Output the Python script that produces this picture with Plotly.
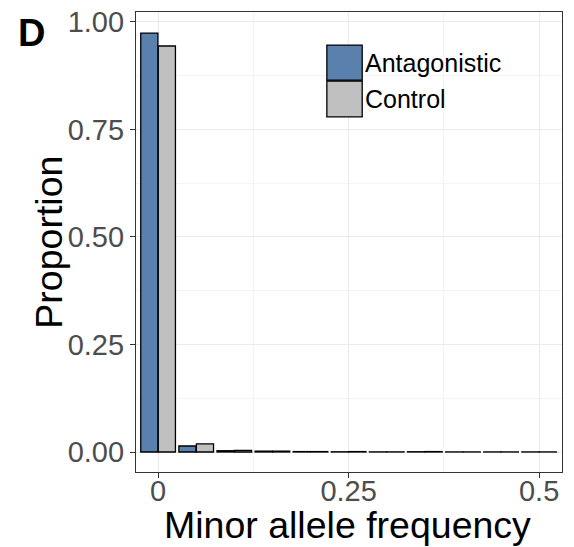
import plotly.graph_objects as go

bin_centers = [0, 0.05, 0.10, 0.15, 0.20, 0.25, 0.30, 0.35, 0.40, 0.45, 0.50]
antagonistic = [0.974, 0.014, 0.003, 0.002, 0.001, 0.0005, 0.0003, 0.0006, 0.0002, 0.0002, 0.0002]
control = [0.944, 0.019, 0.004, 0.002, 0.001, 0.001, 0.0003, 0.001, 0.0002, 0.0002, 0.0002]
series_names = ["Antagonistic", "Control"]
series_colors = ["#5A80AE", "#C0C0C0"]
x_ticks = [0, 0.25, 0.5]
x_ticklabels = ["0", "0.25", "0.5"]
y_ticks = [0, 0.25, 0.5, 0.75, 1.0]
y_ticklabels = ["0.00", "0.25", "0.50", "0.75", "1.00"]
x_title = "Minor allele frequency"
y_title = "Proportion"

FONT = "Liberation Sans, Arial, Helvetica, sans-serif"

fig = go.Figure()
for name, vals, col in zip(series_names, [antagonistic, control], series_colors):
    fig.add_trace(go.Bar(x=bin_centers, y=vals, name=name, width=0.0225,
                         marker=dict(color=col, line=dict(color="black", width=1.3)),
                         showlegend=False))

fig.update_layout(
    width=574, height=547,
    margin=dict(l=136, r=12, t=12, b=75),
    barmode="group", bargap=0.08, bargroupgap=0,
    plot_bgcolor="white", paper_bgcolor="white",
    font=dict(family=FONT, color="black"),
    xaxis=dict(range=[-0.029, 0.53], tickvals=x_ticks, ticktext=x_ticklabels, automargin=False,
               tickfont=dict(size=29, color="#4d4d4d"), ticks="outside", ticklen=5,
               ticklabelstandoff=-12,
               tickcolor="#333333", showgrid=True, gridcolor="#ebebeb", gridwidth=1,
               minor=dict(tickvals=[0.125, 0.375], showgrid=True, gridcolor="#f4f4f4", ticks=""),
               showline=True, mirror=True, linecolor="#333333", linewidth=1.2, zeroline=False),
    yaxis=dict(range=[-0.0465, 1.023], tickvals=y_ticks, ticktext=y_ticklabels, automargin=False,
               tickfont=dict(size=29, color="#4d4d4d"), ticks="outside", ticklen=5,
               tickcolor="#333333", showgrid=True, gridcolor="#ebebeb", gridwidth=1,
               minor=dict(tickvals=[0.125, 0.375, 0.625, 0.875], showgrid=True, gridcolor="#f4f4f4", ticks=""),
               showline=True, mirror=True, linecolor="#333333", linewidth=1.2, zeroline=False),
)

# axis titles
fig.add_annotation(xref="paper", yref="paper", x=0.497, y=-0.115, text=x_title,
                   showarrow=False, xanchor="center", yanchor="middle",
                   font=dict(size=37.5, color="black", family=FONT))
fig.add_annotation(xref="paper", yref="paper", x=-0.205, y=0.5, text=y_title, textangle=-90,
                   showarrow=False, xanchor="center", yanchor="middle",
                   font=dict(size=37.5, color="black", family=FONT))

# custom legend (ggplot-style large keys)
key_y = [(0.852, 0.928), (0.772, 0.850)]
for name, col, (y0, y1) in zip(series_names, series_colors, key_y):
    fig.add_shape(type="rect", xref="paper", yref="paper", x0=0.448, x1=0.531, y0=y0, y1=y1,
                  fillcolor=col, line=dict(color="black", width=1.3))
    fig.add_annotation(xref="paper", yref="paper", x=0.533, y=(y0 + y1) / 2, text=name,
                       showarrow=False, xanchor="left", yanchor="middle",
                       font=dict(size=25, color="black", family=FONT))

fig.add_annotation(xref="paper", yref="paper", x=-0.245, y=1.004, text="<b>D</b>",
                   showarrow=False, xanchor="center", yanchor="top",
                   font=dict(size=38, color="black", family=FONT))

fig.write_html("out.html")
